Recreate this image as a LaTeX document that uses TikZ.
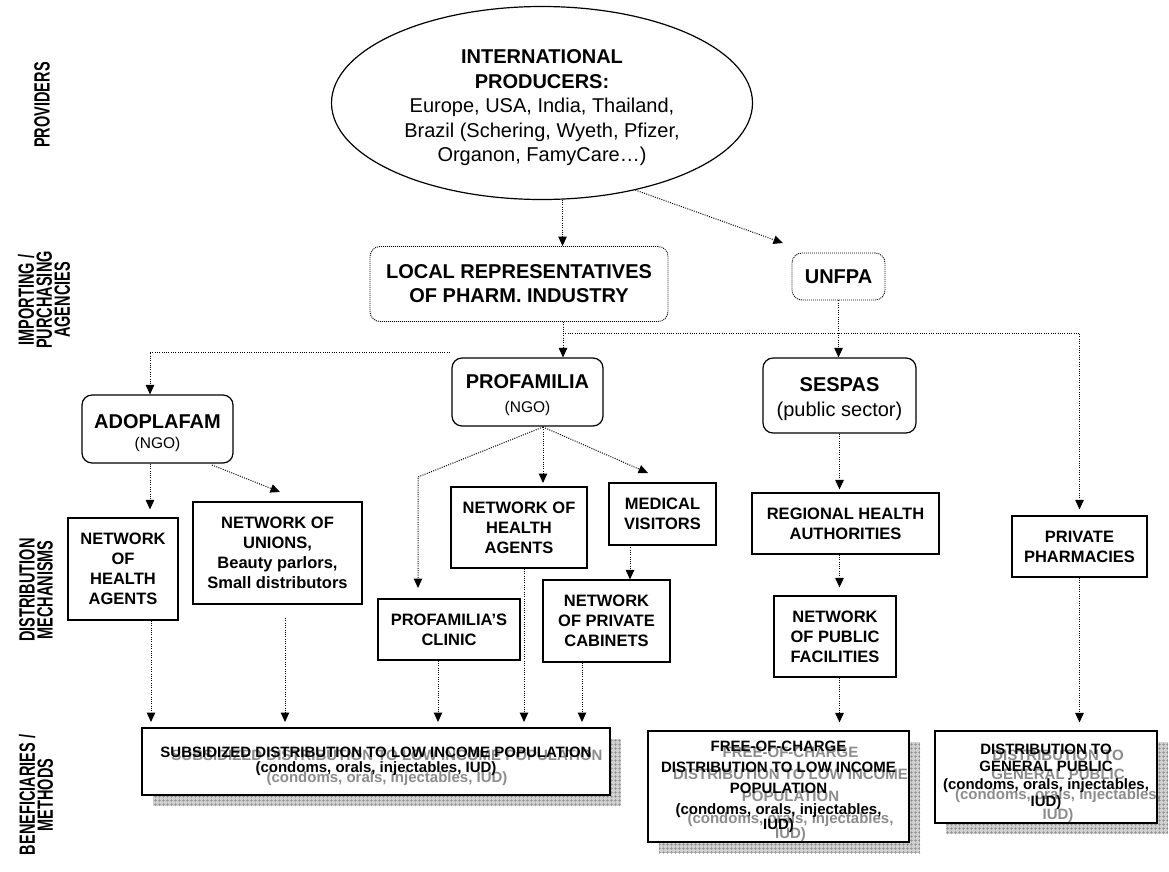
\documentclass[tikz,border=0pt]{standalone}
\usepackage{fontspec}
\setmainfont{Liberation Sans}
\usetikzlibrary{shapes.geometric,arrows.meta,patterns.meta,shadows}
\newcommand\fsz[2]{\fontsize{#1}{#2}\selectfont}
\newcommand\nrw[1]{\scalebox{0.66}[1]{#1}}
\begin{document}
\begin{tikzpicture}[x=1pt,y=-1pt,
  dl/.style={line width=1pt, dash pattern=on 1pt off 1.3pt},
  arr/.style={dl,-{Triangle[width=8.5pt,length=9.5pt]}},
  sz/.style 2 args={minimum width=#1pt, minimum height=#2pt},
  box/.style={draw, line width=1.2pt, fill=white, inner sep=0pt, align=center, font=\bfseries\fsz{16.5}{20}},
  rbox/.style={box, rounded corners=10pt, font=\bfseries\fsz{20}{24}},
  dbox/.style={rbox, line width=0.9pt, dash pattern=on 1pt off 1pt},
  shbox/.style={box,
    general shadow={shadow xshift=11pt, shadow yshift=-11pt, fill=black!18, draw=none},
    general shadow={shadow xshift=11pt, shadow yshift=-11pt, draw=none, pattern={Hatch[angle=0, distance=4pt, line width=0.5pt]}, pattern color=black!45}},
  btxt/.style={inner sep=0pt, align=center, font=\bfseries\fsz{15}{15}},
  gtxt/.style={btxt, text=black!45},
  lab/.style={rotate=90, inner sep=0pt, align=center, font=\bfseries\fsz{22}{18}}]
\useasboundingbox (0,0) rectangle (1169,871);

% row labels
\node[lab] (lprov) at (42,105) {\nrw{PROVIDERS}};
\node[lab] (limp) at (44,300) {\nrw{IMPORTING /}\\\nrw{PURCHASING}\\\nrw{AGENCIES}};
\node[lab] (ldis) at (36,590) {\nrw{DISTRIBUTION}\\\nrw{MECHANISMS}};
\node[lab] (lben) at (36,795) {\nrw{BENEFICIARIES /}\\\nrw{METHODS}};

% providers
\node[ellipse, draw, line width=1.2pt, sz={421}{193}, inner sep=0pt] (ell) at (542,103) {};
\node[inner sep=0pt, align=center, font=\fsz{20}{24.5}] (ellt) at (542,108)
  {\textbf{INTERNATIONAL}\\\textbf{PRODUCERS:}\\Europe, USA, India, Thailand,\\Brazil (Schering, Wyeth, Pfizer,\\Organon, FamyCare…)};

% importing agencies
\node[dbox, sz={298}{75}] (loc) at (519,284) {LOCAL REPRESENTATIVES\\OF PHARM. INDUSTRY};
\node[dbox, sz={93}{47}] (unf) at (838.5,276.5) {UNFPA};

% distributors
\node[rbox, sz={151}{68}] (prof) at (527.5,392) {};
\node[inner sep=0pt, align=center, font=\bfseries\fsz{20}{24}] (proft) at (527.5,395) {PROFAMILIA\\{\mdseries\fsz{15.5}{18}(NGO)}};
\node[rbox, sz={151}{68}] (ado) at (157.5,429) {};
\node[inner sep=0pt, align=center, font=\bfseries\fsz{20}{24}] (adot) at (157.5,433) {ADOPLAFAM\\[-4pt]{\mdseries\fsz{15.5}{18}(NGO)}};
\node[rbox, sz={153}{75}] (ses) at (839.5,395.5) {};
\node[inner sep=0pt, align=center, font=\bfseries\fsz{20}{24.5}] (sest) at (839.5,399) {SESPAS\\{\mdseries(public sector)}};

% mechanisms
\node[box, sz={110}{102}] (ha1) at (123,569) {NETWORK\\OF\\HEALTH\\AGENTS};
\node[box, sz={169}{102}] (uni) at (277.5,553) {NETWORK OF\\UNIONS,\\Beauty parlors,\\Small distributors};
\node[box, sz={136}{81}] (ha2) at (519,527.5) {NETWORK OF\\HEALTH\\AGENTS};
\node[box, sz={107}{62}] (med) at (662.5,514) {MEDICAL\\VISITORS};
\node[box, sz={127}{82}] (cab) at (606.5,621) {NETWORK\\OF PRIVATE\\CABINETS};
\node[box, sz={142}{61}] (cli) at (449,629.5) {PROFAMILIA’S\\CLINIC};
\node[box, sz={187}{61}] (reg) at (845.5,523.5) {REGIONAL HEALTH\\AUTHORITIES};
\node[box, sz={122}{81}] (pub) at (835,636.5) {NETWORK\\OF PUBLIC\\FACILITIES};
\node[box, sz={135}{61}] (pha) at (1079.5,546.5) {PRIVATE\\PHARMACIES};

% beneficiaries
\node[shbox, sz={468}{67}] (sub) at (376,761.5) {};
\node[gtxt, font=\bfseries\fsz{15}{22}] (subg) at ([xshift=11pt,yshift=-6.5pt]sub.center)
  {SUBSIDIZED DISTRIBUTION TO LOW INCOME POPULATION\\(condoms, orals, injectables, IUD)};
\node[btxt] (subt) at (sub.center)
  {SUBSIDIZED DISTRIBUTION TO LOW INCOME POPULATION\\(condoms, orals, injectables, IUD)};

\node[shbox, sz={261}{111}] (fre) at (778.5,786.5) {};
\node[gtxt] (freg) at ([xshift=12pt,yshift=-7.5pt]fre.center)
  {FREE-OF-CHARGE\\[7pt]DISTRIBUTION TO LOW INCOME\\[7pt]POPULATION\\[7pt](condoms, orals, injectables,\\IUD)};
\node[btxt] (fret) at (fre.center)
  {FREE-OF-CHARGE\\[6pt]DISTRIBUTION TO LOW INCOME\\[6pt]POPULATION\\[6pt](condoms, orals, injectables,\\IUD)};

\node[shbox, sz={222}{92}] (dis) at (1046,777) {};
\node[gtxt, font=\bfseries\fsz{15}{19.7}] (disg) at ([xshift=12pt,yshift=-9pt]dis.center)
  {DISTRIBUTION TO\\GENERAL PUBLIC\\(condoms, orals, injectables,\\IUD)};
\node[btxt, font=\bfseries\fsz{15}{17.5}] (dist) at (dis.center)
  {DISTRIBUTION TO\\GENERAL PUBLIC\\(condoms, orals, injectables,\\IUD)};

% junction coordinates
\coordinate (jx) at (563,333);
\coordinate (jl) at (450,352);
\coordinate (jl2) at (150,352);
\coordinate (ut) at (783,243);
\coordinate (jp) at (543,427);
\coordinate (pc1) at (418,477);
\coordinate (pc2) at (418,588);
\coordinate (ph) at (543,483);
\coordinate (pm) at (648,473);
\coordinate (mc) at (630,545);
\coordinate (au) at (212,465);
\coordinate (aut) at (280,492);
\coordinate (b1) at (151,722);
\coordinate (b2s) at (285,618);
\coordinate (b2) at (285,722);
\coordinate (b3) at (438,722);
\coordinate (b4) at (524,722);
\coordinate (b5) at (582,722);

% connectors
\draw[arr] (ell.-78) -- (ell.-78 |- loc.north);
\draw[arr] (ell.-43) -- (ut);
\draw[dl] (jx |- loc.south) -- (jx);
\draw[arr] (jx) -- (jx |- prof.north);
\draw[arr, shorten >=6pt] (jx) -| (pha.north);
\draw[arr] (jl) -- (jl2) -- (jl2 |- ado.north);
\draw[arr] (unf.south) -- (unf.south |- ses.north);
\draw[arr, shorten >=3pt] (ses.south) -- (ses.south |- reg.north);
\draw[arr, shorten >=8pt] (ses.south |- reg.south) -- (ses.south |- pub.north);
\draw[arr, shorten >=8pt] (ses.south |- pub.south) -- (ses.south |- fre.north);
\draw[arr, shorten >=8pt] (pha.south) -- (pha.south |- dis.north);
\draw[arr, shorten >=8pt] (jl2 |- ado.south) -- (jl2 |- ha1.north);
\draw[arr] (au) -- (aut);
\draw[arr] (jp) -- (pc1) -- (pc2);
\draw[arr] (jp) -- (ph);
\draw[arr] (jp) -- (pm);
\draw[arr] (mc) -- (mc |- cab.north);
\draw[arr] (b1 |- ha1.south) -- (b1);
\draw[arr] (b2s) -- (b2);
\draw[arr] (b3 |- cli.south) -- (b3);
\draw[arr] (b4 |- ha2.south) -- (b4);
\draw[arr] (b5 |- cab.south) -- (b5);
\end{tikzpicture}
\end{document}
